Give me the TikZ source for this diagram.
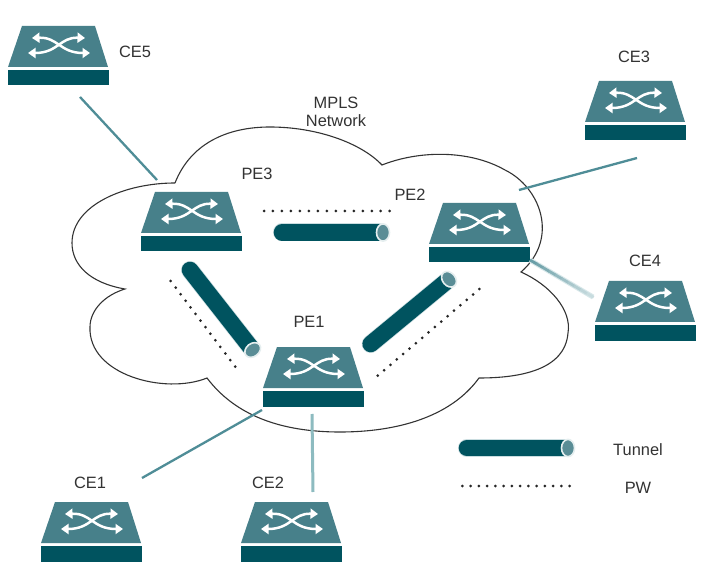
\documentclass[tikz,border=0pt]{standalone}
\usepackage{fontspec}
\setmainfont{Liberation Sans}
\usetikzlibrary{arrows.meta,calc}
\definecolor{swtop}{HTML}{47808A}
\definecolor{swdark}{HTML}{00535F}
\definecolor{link}{HTML}{4F8D97}
\definecolor{linklight}{HTML}{8DBBC0}
\tikzset{
  x=1pt,y=-1pt,
  box/.style={inner sep=0,outer sep=0,minimum width=100pt,minimum height=59pt,anchor=north west},
  lbl/.style={font=\fontsize{16.4}{18}\selectfont,text=black!80,align=center,inner sep=0},
  conn/.style={draw=link,line width=2.3pt},
  connlight/.style={draw=linklight,line width=3pt},
  cloud outline/.style={draw=black!80,line width=1.1pt,fill=white},
  pw/.style={line width=3pt,black!85,line cap=round},
  arr/.style={draw=white,line width=2.5pt,{Triangle[width=10pt,length=7.5pt]}-{Triangle[width=10pt,length=7.5pt]}},
}
\newcommand{\switch}[3]{%
  \node[box] (#1) at (#2,#3) {};
  \begin{scope}[shift={(#2,#3)}]
    \fill[swtop] (14,0) -- (87,0) -- (100,41) -- (0,41) -- cycle;
    \fill[swdark] (0,44) rectangle (100.5,59.5);
    \draw[arr] (24,12) .. controls (50,11) and (52,27) .. (82,27);
    \draw[arr] (20,27) .. controls (50,27) and (52,11) .. (77,12);
  \end{scope}}
\newcommand{\tunnel}[4]{%
  \coordinate (#1) at (#2);
  \coordinate (#1end) at (#3);
  \draw[white!70!link,line width=18pt,line cap=round] (#1) -- ($(#1end)!4pt!(#1)$);
  \draw[swdark,line width=16.6pt,line cap=round] (#1) -- ($(#1end)!4pt!(#1)$);
  \fill[swtop!90!white,draw=white!85!link,line width=1.6pt,rotate around={#4:(#1end)}] (#1end) ellipse (6.5 and 8.6);}
\begin{document}
\begin{tikzpicture}
\useasboundingbox (0,0) rectangle (702,588);
\fill[white] (0,0) rectangle (702,588);
% cloud
\draw[cloud outline] (175,183)
  .. controls (190,145) and (225,127) .. (270,127)
  .. controls (315,127) and (360,142) .. (382,165)
  .. controls (420,150) and (470,150) .. (505,170)
  .. controls (540,187) and (560,238) .. (521,272)
  .. controls (550,285) and (572,310) .. (568,333)
  .. controls (565,370) and (520,378) .. (479,378)
  .. controls (450,418) and (395,432) .. (340,432)
  .. controls (280,432) and (235,415) .. (207,378)
  .. controls (165,395) and (88,375) .. (90,327)
  .. controls (90,310) and (105,295) .. (125,289)
  .. controls (90,283) and (72,265) .. (72,243)
  .. controls (72,205) and (125,183) .. (175,183);
% switches
\switch{ce5}{8}{26}
\switch{ce3}{585}{81}
\switch{pe3}{141}{192}
\switch{pe2}{429}{203}
\switch{ce4}{595}{281}
\switch{pe1}{263}{347}
\switch{ce1}{41}{502}
\switch{ce2}{241}{502}
% connectors
\coordinate (a1) at (80,97);  \coordinate (a2) at (157,180);
\coordinate (b1) at (637,158); \coordinate (b2) at (519,190);
\coordinate (c1) at (530,260); \coordinate (c2) at (593,297);
\coordinate (d1) at (142,478); \coordinate (d2) at (262,410);
\coordinate (e1) at (312,414); \coordinate (e2) at (313,492);
\draw[conn] (a1) -- (a2);
\draw[conn] (b1) -- (b2);
\draw[draw=linklight!35,line width=5pt] (c1) -- (c2);
\foreach \i in {0,...,9}{
  \pgfmathsetmacro{\mixv}{85-6*\i}
  \pgfmathsetmacro{\ta}{\i/10}
  \pgfmathsetmacro{\tb}{(\i+1.1)/10}
  \draw[draw=link!\mixv!white,line width=2.8pt] ($(c1)!\ta!(c2)$) -- ($(c1)!\tb!(c2)$);
}
\draw[conn] (d1) -- (d2);
\draw[connlight] (e1) -- (e2);
% tunnels
\tunnel{t1}{282,232.5}{383,232.5}{0}
\tunnel{t2}{190,270}{252.7,350}{-52}
\tunnel{t3}{370.7,344}{449,279.3}{40}
\tunnel{t4}{467,448}{568,448}{0}
% pseudowires
\coordinate (p1) at (264,211); \coordinate (p2) at (390,211);
\coordinate (q1) at (170.7,281); \coordinate (q2) at (235.5,367);
\coordinate (r1) at (377.7,375.7); \coordinate (r2) at (479.5,289);
\coordinate (s1) at (462.3,486); \coordinate (s2) at (570,486);
\draw[pw,dash pattern=on 0pt off 8.98pt] (p1) -- (p2);
\draw[pw,dash pattern=on 0pt off 8.25pt] (q1) -- (q2);
\draw[pw,dash pattern=on 0pt off 8.35pt] (r1) -- (r2);
\draw[pw,dash pattern=on 0pt off 8.25pt] (s1) -- (s2);
% labels
\node[lbl] (l1) at (135,52) {CE5};
\node[lbl] (l2) at (634,57) {CE3};
\node[lbl] (l3) at (336,112) {MPLS\\Network};
\node[lbl] (l4) at (257,174) {PE3};
\node[lbl] (l5) at (410,195) {PE2};
\node[lbl] (l6) at (645,261) {CE4};
\node[lbl] (l7) at (309,322) {PE1};
\node[lbl] (l8) at (90,483) {CE1};
\node[lbl] (l9) at (268,483) {CE2};
\node[lbl] (l10) at (638,450) {Tunnel};
\node[lbl] (l11) at (638,488) {PW};
\end{tikzpicture}
\end{document}
